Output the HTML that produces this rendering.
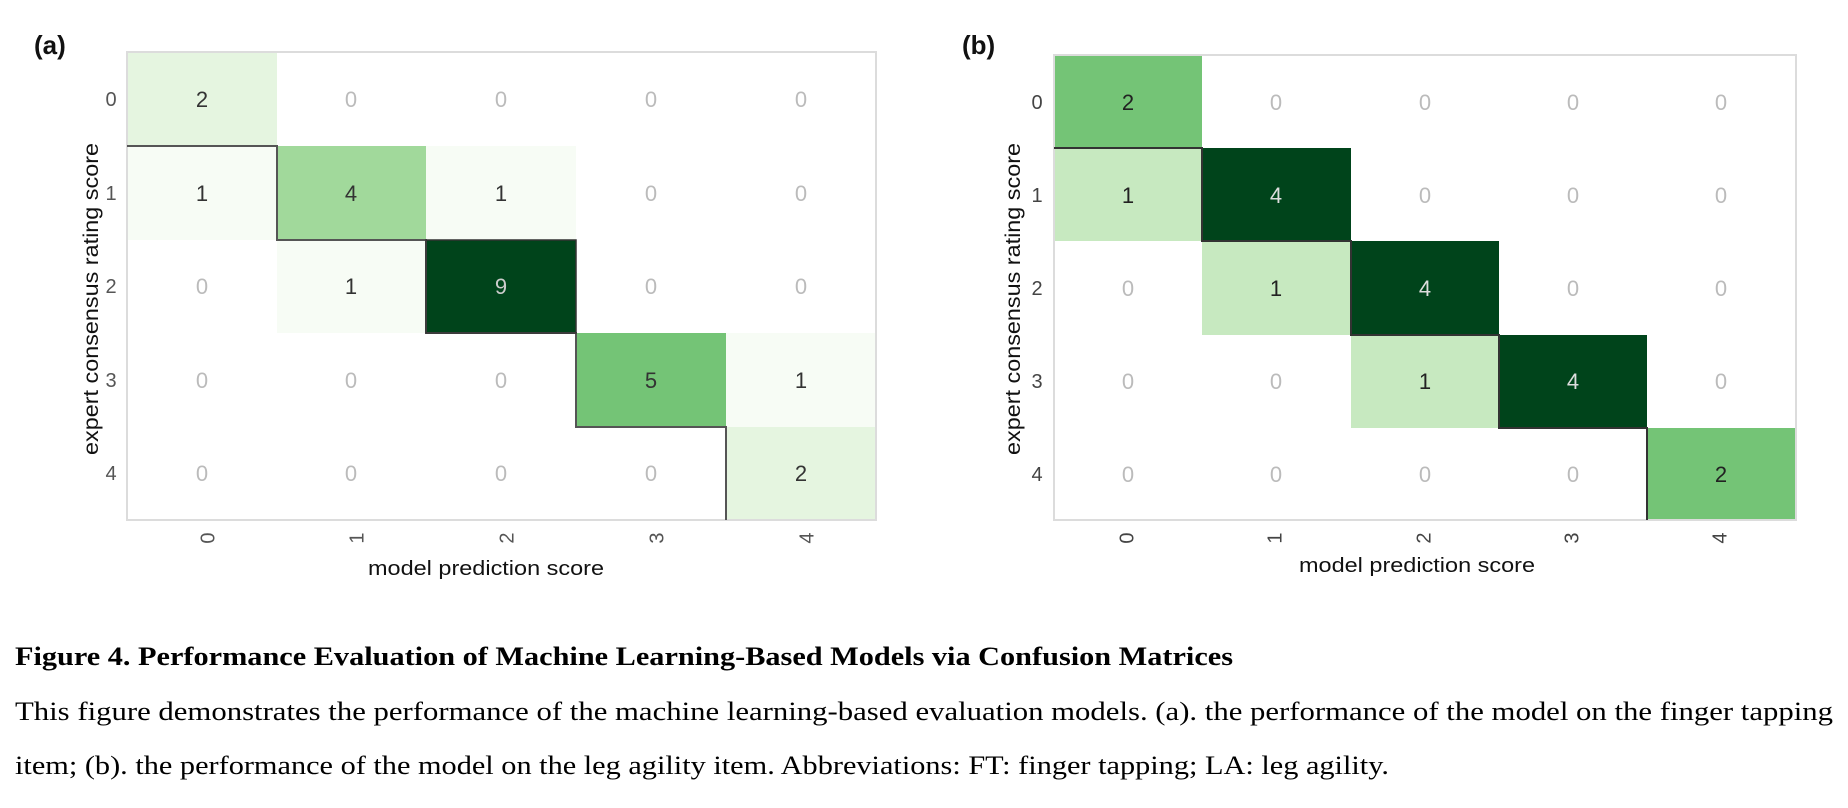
<!DOCTYPE html>
<html><head><meta charset="utf-8"><style>
html,body{margin:0;padding:0;background:#fff;}
svg{display:block;}
</style></head><body>
<svg width="1848" height="808" viewBox="0 0 1848 808" xmlns="http://www.w3.org/2000/svg" font-family="Liberation Sans, Arial, sans-serif">
<rect width="1848" height="808" fill="#fff"/>

<!-- Panel (a) -->
<text x="34" y="54" font-size="26" font-weight="bold" fill="#111">(a)</text>
<g>
  <rect x="127" y="52" width="150" height="94" fill="#e5f5e0"/>
  <rect x="127" y="146" width="150" height="94" fill="#f7fcf5"/>
  <rect x="277" y="146" width="149" height="94" fill="#a1d99b"/>
  <rect x="426" y="146" width="150" height="94" fill="#f7fcf5"/>
  <rect x="277" y="240" width="149" height="93" fill="#f7fcf5"/>
  <rect x="426" y="240" width="150" height="93" fill="#00441b"/>
  <rect x="576" y="333" width="150" height="94" fill="#74c476"/>
  <rect x="726" y="333" width="150" height="94" fill="#f7fcf5"/>
  <rect x="726" y="427" width="150" height="93" fill="#e5f5e0"/>
  <rect x="127" y="52" width="749" height="468" fill="none" stroke="#dcdcdc" stroke-width="2"/>
  <polyline points="127,146 277,146 277,240 426,240 426,333 576,333 576,427 726,427 726,520" fill="none" stroke="#555" stroke-width="2"/>
  <rect x="426" y="240" width="150" height="93" fill="none" stroke="#333" stroke-width="1.5"/>
  <g font-size="22" text-anchor="middle">
    <text x="202" y="107" fill="#333">2</text><text x="351" y="107" fill="#bbb">0</text><text x="501" y="107" fill="#bbb">0</text><text x="651" y="107" fill="#bbb">0</text><text x="801" y="107" fill="#bbb">0</text>
    <text x="202" y="201" fill="#333">1</text><text x="351" y="201" fill="#333">4</text><text x="501" y="201" fill="#333">1</text><text x="651" y="201" fill="#bbb">0</text><text x="801" y="201" fill="#bbb">0</text>
    <text x="202" y="294" fill="#bbb">0</text><text x="351" y="294" fill="#333">1</text><text x="501" y="294" fill="#ccc">9</text><text x="651" y="294" fill="#bbb">0</text><text x="801" y="294" fill="#bbb">0</text>
    <text x="202" y="388" fill="#bbb">0</text><text x="351" y="388" fill="#bbb">0</text><text x="501" y="388" fill="#bbb">0</text><text x="651" y="388" fill="#333">5</text><text x="801" y="388" fill="#333">1</text>
    <text x="202" y="481" fill="#bbb">0</text><text x="351" y="481" fill="#bbb">0</text><text x="501" y="481" fill="#bbb">0</text><text x="651" y="481" fill="#bbb">0</text><text x="801" y="481" fill="#333">2</text>
  </g>
  <g font-size="20" fill="#555" text-anchor="middle">
    <text x="111" y="106">0</text><text x="111" y="200">1</text><text x="111" y="293">2</text><text x="111" y="387">3</text><text x="111" y="480">4</text>
    <text transform="translate(209,538) rotate(-90)" dominant-baseline="middle">0</text>
    <text transform="translate(358,538) rotate(-90)" dominant-baseline="middle">1</text>
    <text transform="translate(508,538) rotate(-90)" dominant-baseline="middle">2</text>
    <text transform="translate(658,538) rotate(-90)" dominant-baseline="middle">3</text>
    <text transform="translate(808,538) rotate(-90)" dominant-baseline="middle">4</text>
  </g>
  <text transform="translate(98,299) rotate(-90)" font-size="21" fill="#111" text-anchor="middle" textLength="312" lengthAdjust="spacingAndGlyphs">expert consensus rating score</text>
  <text x="486" y="575" font-size="20" fill="#111" text-anchor="middle" textLength="236" lengthAdjust="spacingAndGlyphs">model prediction score</text>
</g>

<!-- Panel (b) -->
<text x="962" y="54" font-size="26" font-weight="bold" fill="#111">(b)</text>
<g>
  <rect x="1054" y="55" width="148" height="93" fill="#74c476"/>
  <rect x="1054" y="148" width="148" height="93" fill="#c7e9c0"/>
  <rect x="1202" y="148" width="149" height="93" fill="#00441b"/>
  <rect x="1202" y="241" width="149" height="94" fill="#c7e9c0"/>
  <rect x="1351" y="241" width="148" height="94" fill="#00441b"/>
  <rect x="1351" y="335" width="148" height="93" fill="#c7e9c0"/>
  <rect x="1499" y="335" width="148" height="93" fill="#00441b"/>
  <rect x="1647" y="428" width="149" height="92" fill="#74c476"/>
  <rect x="1054" y="55" width="742" height="465" fill="none" stroke="#dcdcdc" stroke-width="2"/>
  <polyline points="1054,148 1202,148 1202,241 1351,241 1351,335 1499,335 1499,428 1647,428 1647,520" fill="none" stroke="#333" stroke-width="2"/>
  <g font-size="22" text-anchor="middle">
    <text x="1128" y="110" fill="#222">2</text><text x="1276" y="110" fill="#bbb">0</text><text x="1425" y="110" fill="#bbb">0</text><text x="1573" y="110" fill="#bbb">0</text><text x="1721" y="110" fill="#bbb">0</text>
    <text x="1128" y="203" fill="#222">1</text><text x="1276" y="203" fill="#ddd">4</text><text x="1425" y="203" fill="#bbb">0</text><text x="1573" y="203" fill="#bbb">0</text><text x="1721" y="203" fill="#bbb">0</text>
    <text x="1128" y="296" fill="#bbb">0</text><text x="1276" y="296" fill="#222">1</text><text x="1425" y="296" fill="#ddd">4</text><text x="1573" y="296" fill="#bbb">0</text><text x="1721" y="296" fill="#bbb">0</text>
    <text x="1128" y="389" fill="#bbb">0</text><text x="1276" y="389" fill="#bbb">0</text><text x="1425" y="389" fill="#222">1</text><text x="1573" y="389" fill="#ddd">4</text><text x="1721" y="389" fill="#bbb">0</text>
    <text x="1128" y="482" fill="#bbb">0</text><text x="1276" y="482" fill="#bbb">0</text><text x="1425" y="482" fill="#bbb">0</text><text x="1573" y="482" fill="#bbb">0</text><text x="1721" y="482" fill="#222">2</text>
  </g>
  <g font-size="20" fill="#444" text-anchor="middle">
    <text x="1037" y="109">0</text><text x="1037" y="202">1</text><text x="1037" y="295">2</text><text x="1037" y="388">3</text><text x="1037" y="481">4</text>
    <text transform="translate(1128,538) rotate(-90)" dominant-baseline="middle">0</text>
    <text transform="translate(1276,538) rotate(-90)" dominant-baseline="middle">1</text>
    <text transform="translate(1425,538) rotate(-90)" dominant-baseline="middle">2</text>
    <text transform="translate(1573,538) rotate(-90)" dominant-baseline="middle">3</text>
    <text transform="translate(1721,538) rotate(-90)" dominant-baseline="middle">4</text>
  </g>
  <text transform="translate(1020,299) rotate(-90)" font-size="21" fill="#111" text-anchor="middle" textLength="312" lengthAdjust="spacingAndGlyphs">expert consensus rating score</text>
  <text x="1417" y="572" font-size="20" fill="#111" text-anchor="middle" textLength="236" lengthAdjust="spacingAndGlyphs">model prediction score</text>
</g>

<!-- Caption -->
<g font-family="Liberation Serif, Times New Roman, serif" fill="#000">
  <text x="15" y="665" font-size="26" font-weight="bold" textLength="1218" lengthAdjust="spacingAndGlyphs">Figure 4. Performance Evaluation of Machine Learning-Based Models via Confusion Matrices</text>
  <text x="15" y="720" font-size="26" textLength="1818" lengthAdjust="spacingAndGlyphs">This figure demonstrates the performance of the machine learning-based evaluation models. (a). the performance of the model on the finger tapping</text>
  <text x="15" y="774" font-size="26" textLength="1374" lengthAdjust="spacingAndGlyphs">item; (b). the performance of the model on the leg agility item. Abbreviations: FT: finger tapping; LA: leg agility.</text>
</g>
</svg>
</body></html>
